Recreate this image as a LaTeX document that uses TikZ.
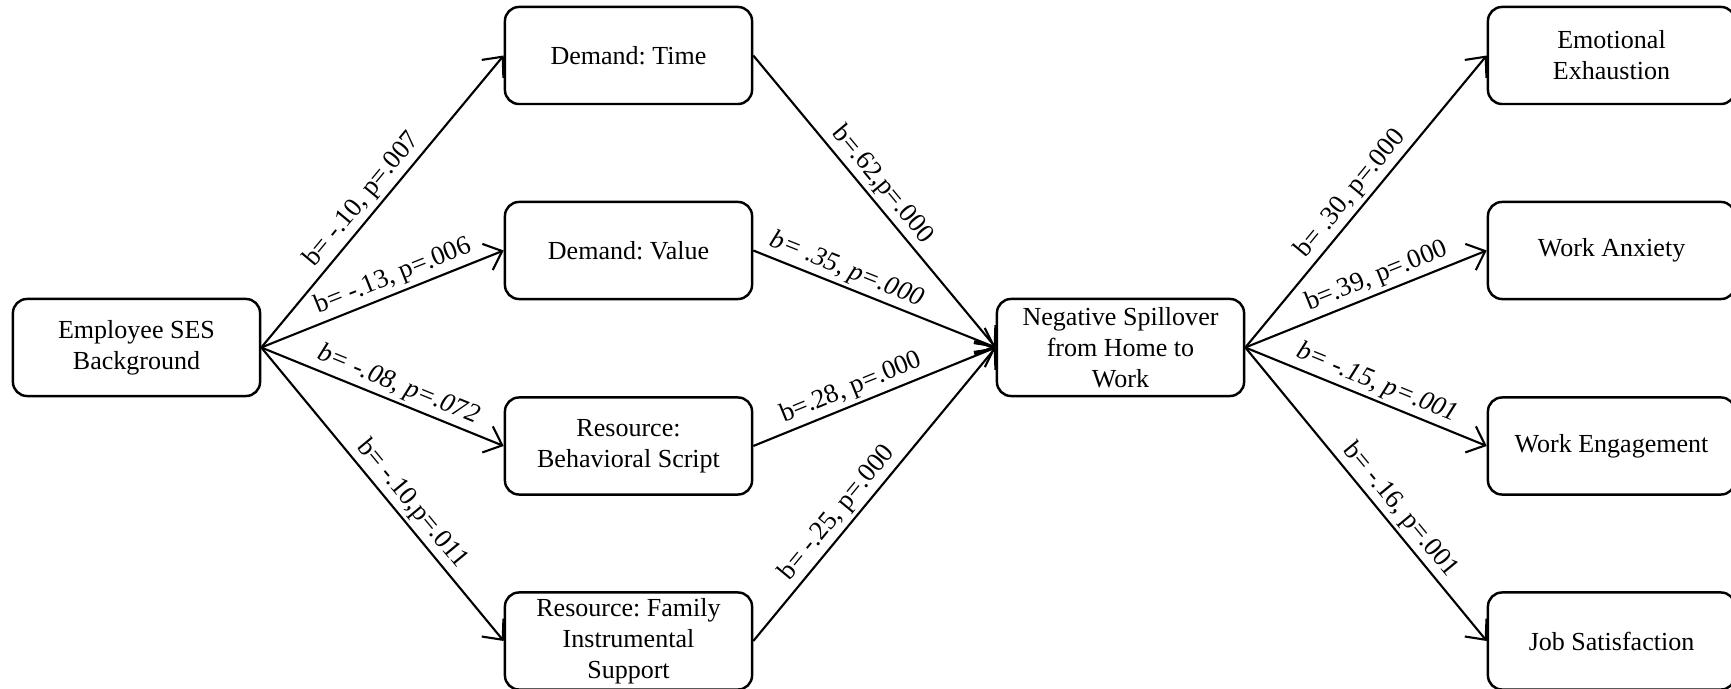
\documentclass[tikz,border=0pt]{standalone}
\usepackage{fontspec}
\setmainfont{Liberation Serif}[Ligatures=TeX]
\newfontfamily\tnr{Liberation Serif}
\usetikzlibrary{arrows.meta}
\begin{document}
\frenchspacing
\begin{tikzpicture}[x=0.01cm,y=-0.01cm,
 box/.style={draw, line width=0.7pt, rounded corners=4pt, minimum width=2.47cm, minimum height=0.97cm, align=center, inner sep=0pt, font=\tnr\fontsize{7.4}{8.8}\selectfont},
 arr/.style={line width=0.6pt, -{Straight Barb[length=4.5pt,width=8pt]}},
 lab/.style={sloped, above, inner sep=1pt, font=\tnr\fontsize{7.6}{8.8}\selectfont}]
\useasboundingbox (0,0) rectangle (1731,689);
\clip (0,0) rectangle (1731,689);
\node[box] (ses) at (136.5,347.5) {Employee SES\\Background};
\node[box] (time) at (628.5,55.5) {Demand: Time};
\node[box] (value) at (628.5,250.5) {Demand: Value};
\node[box] (script) at (628.5,446) {Resource:\\Behavioral Script};
\node[box] (fam) at (628.5,641) {Resource: Family\\Instrumental\\Support};
\node[box] (neg) at (1120.5,347.5) {Negative Spillover\\from Home to\\Work};
\node[box] (emo) at (1611.5,55.5) {Emotional\\Exhaustion};
\node[box] (anx) at (1611.5,250.5) {Work Anxiety};
\node[box] (eng) at (1611.5,446) {Work Engagement};
\node[box] (job) at (1611.5,641) {Job Satisfaction};
\draw[arr] (ses.east) -- node[lab, pos=0.47]{b= -.10, p=.007} (time.west);
\draw[arr] (ses.east) -- node[lab, pos=0.57]{b= -.13, p=.006} (value.west);
\draw[arr] (ses.east) -- node[lab, pos=0.54]{\textit{b= -.08, p=.072}} (script.west);
\draw[arr] (ses.east) -- node[lab, pos=0.57]{b= -.10,p=.011} (fam.west);
\draw[arr] (time.east) -- node[lab, pos=0.48]{b=.62,p=.000} (neg.west);
\draw[arr] (value.east) -- node[lab, pos=0.36]{\textit{b= .35, p=.000}} (neg.west);
\draw[arr] (script.east) -- node[lab, pos=0.43]{b=.28, p=.000} (neg.west);
\draw[arr] (fam.east) -- node[lab, pos=0.40]{b= -.25, p=.000} (neg.west);
\draw[arr] (neg.east) -- node[lab, pos=0.49]{b= .30, p=.000} (emo.west);
\draw[arr] (neg.east) -- node[lab, pos=0.57]{b=.39, p=.000} (anx.west);
\draw[arr] (neg.east) -- node[lab, pos=0.52]{\textit{b= -.15, p=.001}} (eng.west);
\draw[arr] (neg.east) -- node[lab, pos=0.59]{b= -.16, p=.001} (job.west);
\end{tikzpicture}
\end{document}
